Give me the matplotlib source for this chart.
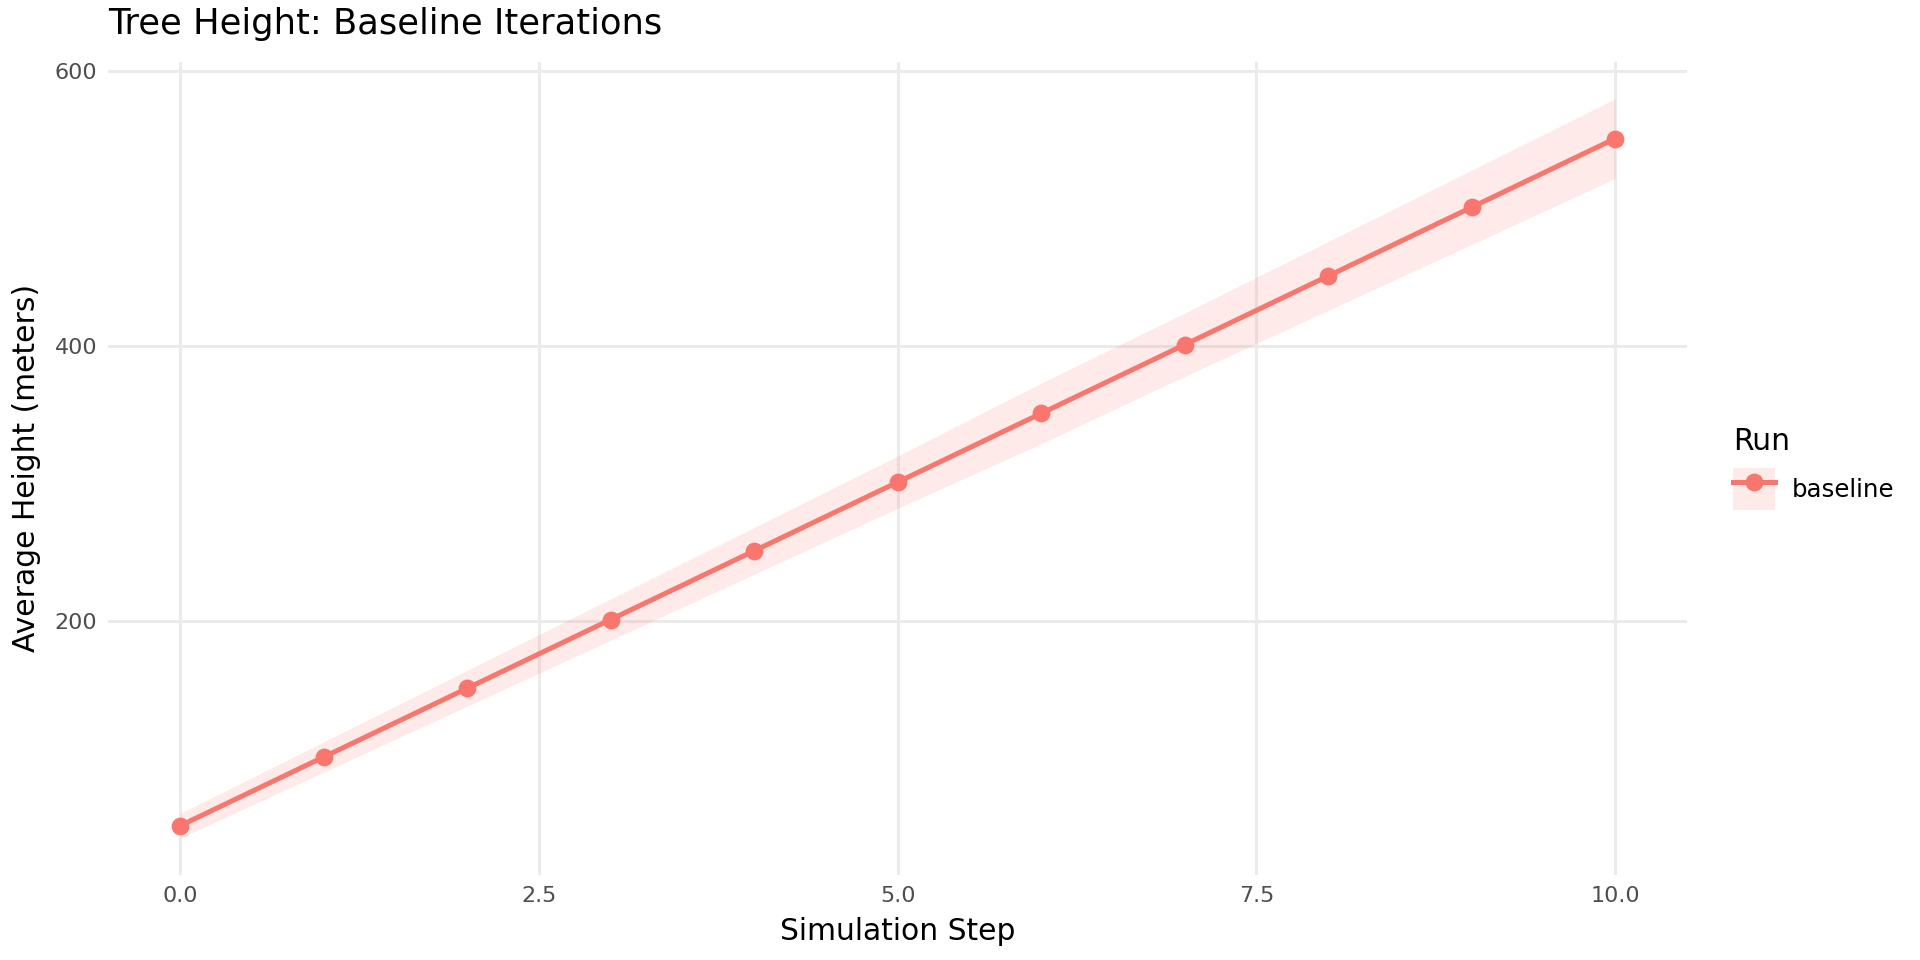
import numpy as np
import matplotlib
matplotlib.use("Agg")
import matplotlib.pyplot as plt
from matplotlib.lines import Line2D
from matplotlib.patches import Patch
from matplotlib.legend_handler import HandlerTuple

# ---- data ----
steps = [0, 1, 2, 3, 4, 5, 6, 7, 8, 9, 10]
mean_height = [51, 101, 151, 201, 251, 301, 351, 401, 451, 501, 551]
lower_band = [42, 90, 138, 186, 234, 282, 329, 378, 426, 474, 522]
upper_band = [60, 112, 164, 216, 268, 320, 373, 424, 476, 528, 580]
x_ticks = [0.0, 2.5, 5.0, 7.5, 10.0]
y_ticks = [200, 400, 600]
run_name = "baseline"

red = "#F8766D"
grid_col = "#EBEBEB"

fig = plt.figure(figsize=(9.6, 4.8), dpi=200)
ax = fig.add_axes([0.0565, 0.0885, 0.8221, 0.8472])

ax.fill_between(steps, lower_band, upper_band, color=red, alpha=0.15, linewidth=0, zorder=2)
ax.plot(steps, mean_height, color=red, linewidth=1.8, marker="o", markersize=5.4, zorder=3)

# ggplot-style 5% expansion
xr = max(steps) - min(steps)
ax.set_xlim(min(steps) - 0.05 * xr, max(steps) + 0.05 * xr)
yr = max(upper_band) - min(lower_band)
ax.set_ylim(min(lower_band) - 0.05 * yr, max(upper_band) + 0.05 * yr)

ax.set_xticks(x_ticks)
ax.set_xticklabels([f"{t:.1f}" for t in x_ticks])
ax.set_yticks(y_ticks)
ax.tick_params(length=0, labelsize=8, labelcolor="#4D4D4D", pad=4)
ax.grid(True, color=grid_col, linewidth=1.1)
ax.set_axisbelow(True)
for s in ax.spines.values():
    s.set_visible(False)

ax.set_xlabel("Simulation Step", fontsize=10.7, labelpad=4)
ax.set_ylabel("Average Height (meters)", fontsize=10.7, labelpad=5)
ax.set_title("Tree Height: Baseline Iterations", fontsize=12.7, loc="left", pad=10)

# legend: ribbon key with line + point drawn over it
key_fill = Patch(facecolor=red, alpha=0.15, edgecolor="none")
key_line = Line2D([], [], color=red, linewidth=1.8, marker="o", markersize=5.4)
leg = fig.legend([(key_fill, key_line)], [run_name],
                 handler_map={tuple: HandlerTuple(ndivide=1, pad=0)},
                 title="Run", title_fontsize=10.7, fontsize=8.8,
                 loc="center left", bbox_to_anchor=(0.9025, 0.512),
                 frameon=False, alignment="left",
                 handlelength=1.72, handleheight=2.27, handletextpad=0.7,
                 borderpad=0, borderaxespad=0)

fig.savefig("out.png", dpi=200, facecolor="white")
